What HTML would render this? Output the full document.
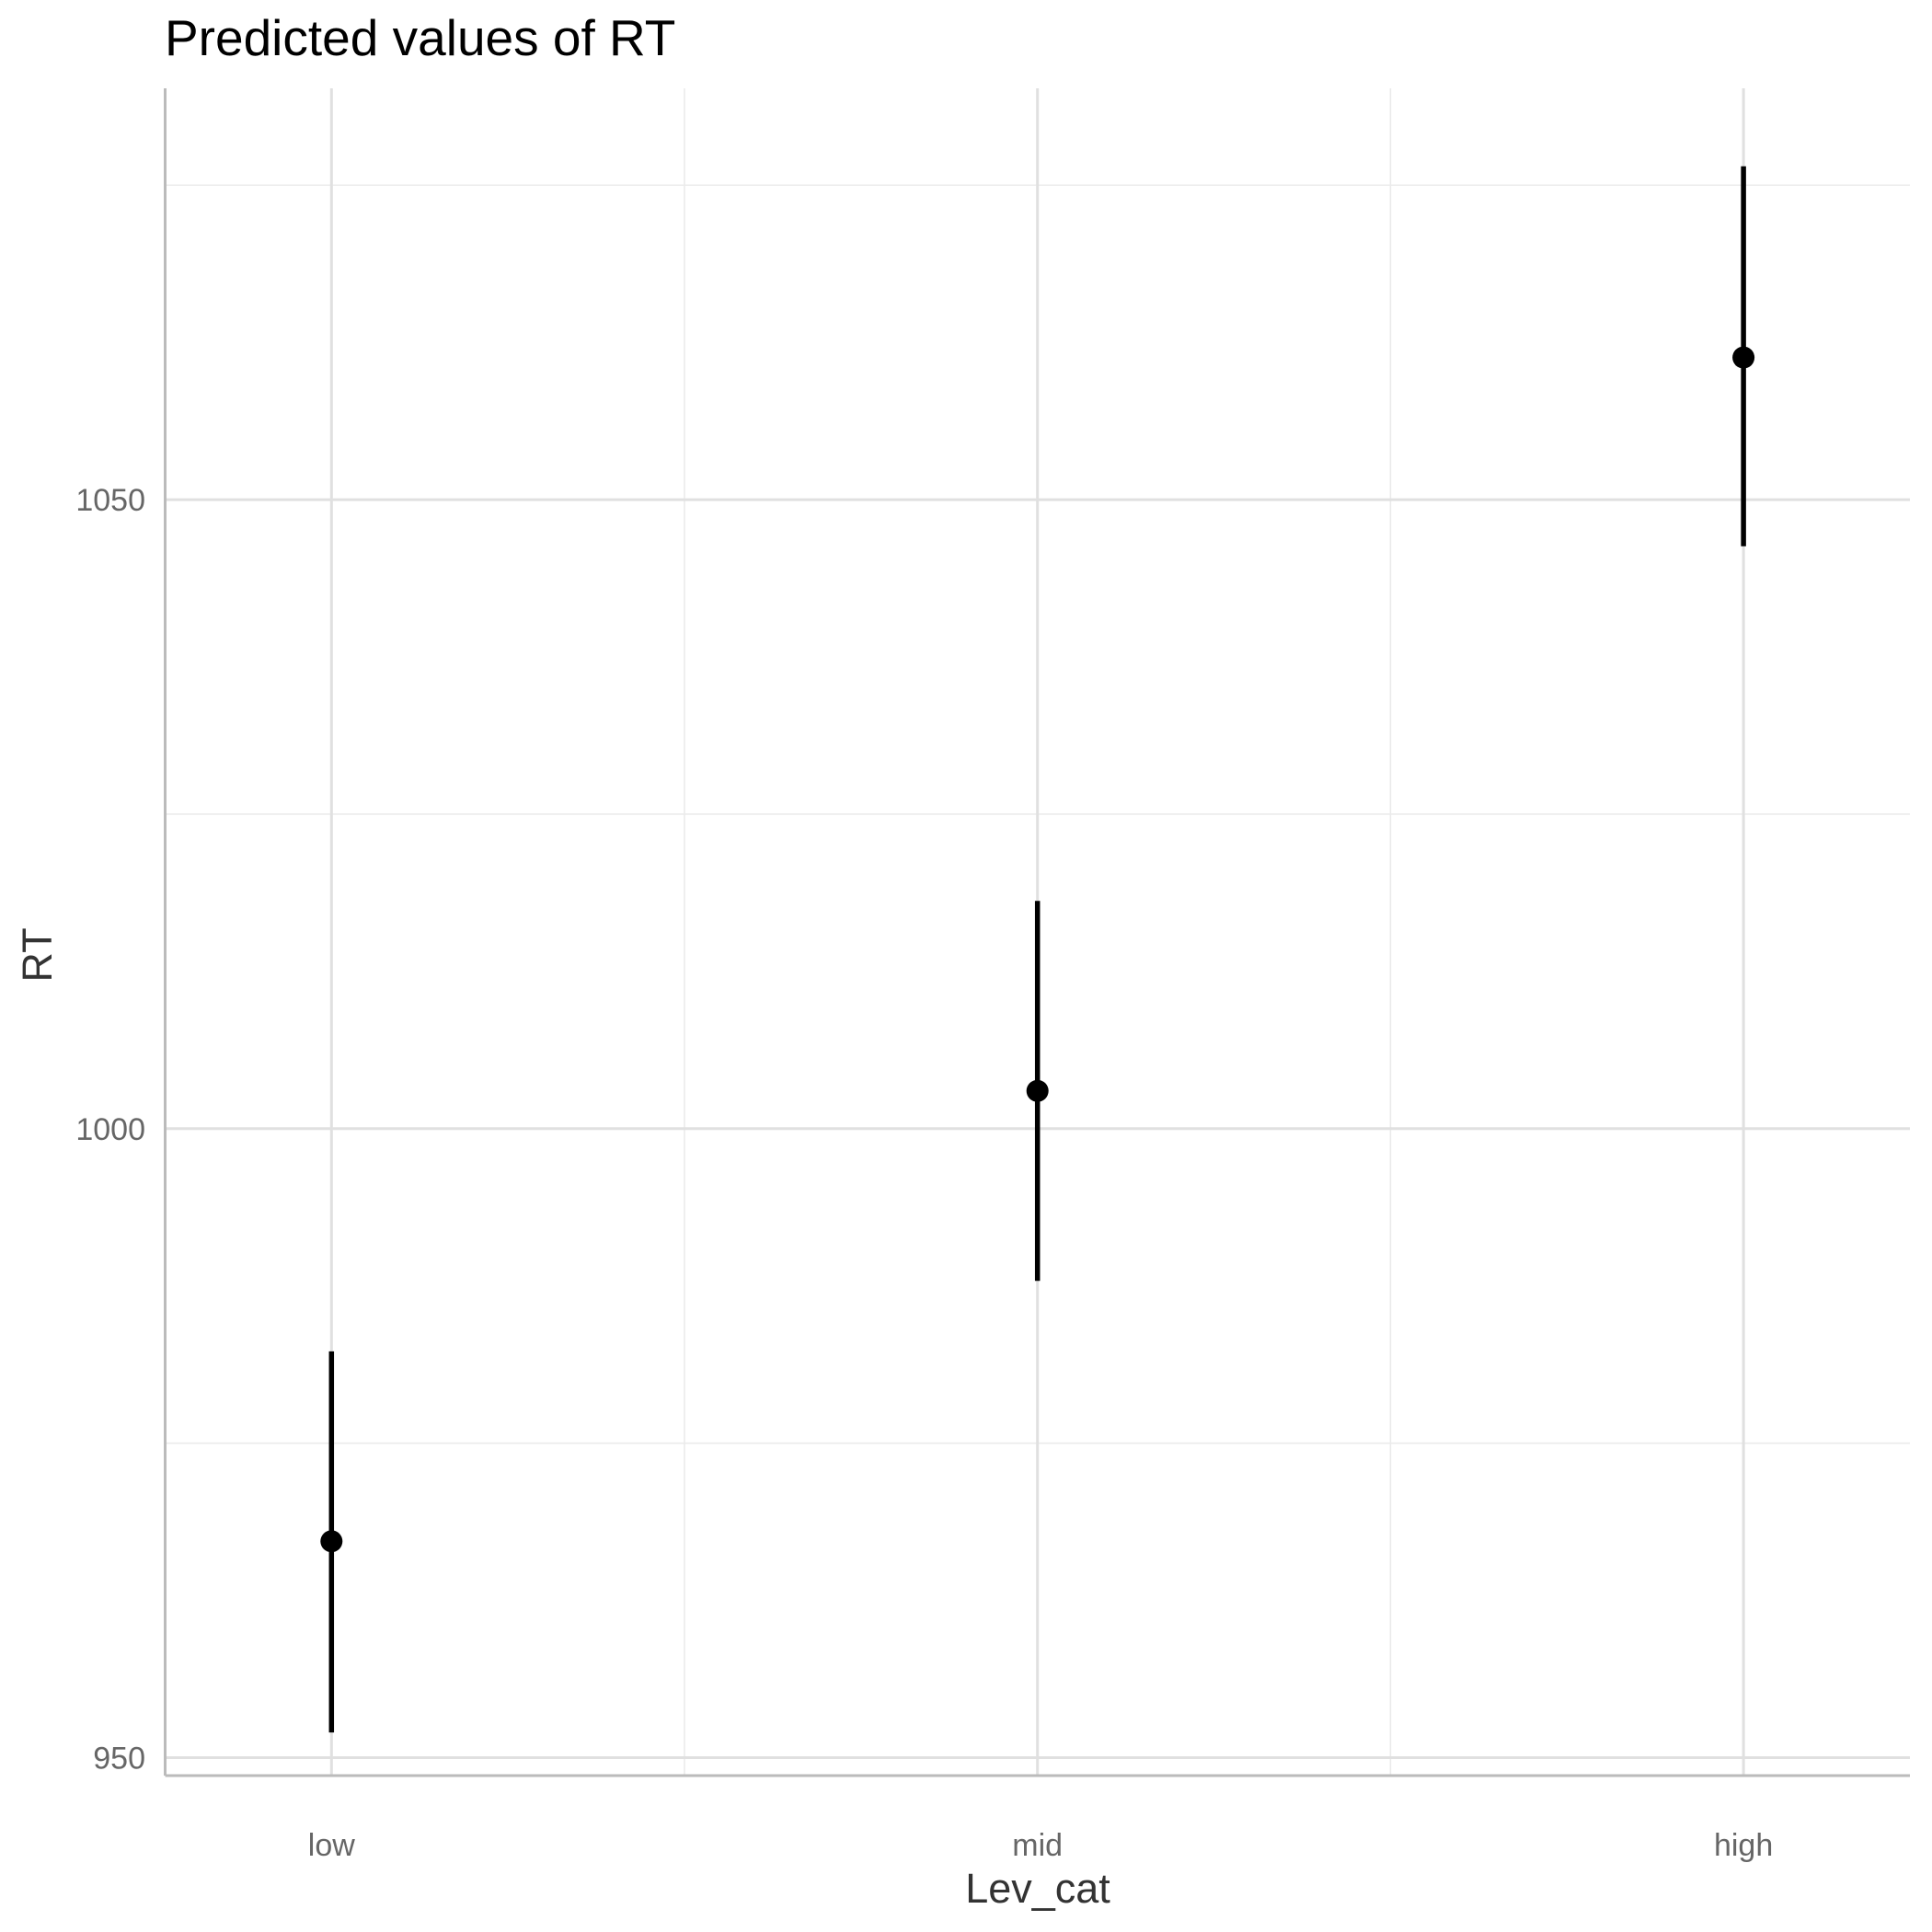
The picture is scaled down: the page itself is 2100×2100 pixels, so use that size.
<!DOCTYPE html>
<html><head><meta charset="utf-8"><style>
html,body{margin:0;padding:0;background:#fff;}
svg{display:block;font-family:"Liberation Sans",Arial,sans-serif;}
</style></head><body>
<svg id="chart" width="2100" height="2100" viewBox="0 0 2100 2100">
<text x="179" y="60" font-size="55" fill="#000">Predicted values of RT</text>
<g id="grid"></g>
<g id="axes"></g>
<g id="marks"></g>
<text x="1128" y="2068" font-size="45" fill="#333" text-anchor="middle">Lev_cat</text>
<text transform="translate(56,1038) rotate(-90)" font-size="45" fill="#333" text-anchor="middle">RT</text>
</svg>
<script>
const categories = ["low","mid","high"];
const predicted = [967.2, 1003.0, 1061.3];
const ciLow = [952.0, 987.9, 1046.3];
const ciHigh = [982.3, 1018.1, 1076.5];
const yTicks = [950, 1000, 1050];
const yMinor = [975, 1025, 1075];

const NS="http://www.w3.org/2000/svg";
const L=179.5,R=2076,T=96,B=1930;
function y(v){return 1226.8-(v-1000)*13.674;}
function x(i){return 360.3+i*767.4;}
function mk(tag,attrs,parent){const e=document.createElementNS(NS,tag);for(const k in attrs)e.setAttribute(k,attrs[k]);document.getElementById(parent).appendChild(e);return e;}

yMinor.forEach(v=>{const e=mk('line',{x1:L,x2:R,y1:y(v),y2:y(v),stroke:'#ebebeb','stroke-width':1.6},'grid');

});
[0.5,1.5].forEach(i=>{const e=mk('line',{x1:x(i),x2:x(i),y1:T,y2:B,stroke:'#ebebeb','stroke-width':1.6},'grid');

});
yTicks.forEach(v=>{const e=mk('line',{x1:L,x2:R,y1:y(v),y2:y(v),stroke:'#e0e0e0','stroke-width':3},'grid');


const t=mk('text',{x:158,y:y(v)+12,'font-size':34,fill:'#666','text-anchor':'end'},'axes');t.textContent=v;

});
categories.forEach((c,i)=>{const e=mk('line',{x1:x(i),x2:x(i),y1:T,y2:B,stroke:'#e0e0e0','stroke-width':3},'grid');


const t=mk('text',{x:x(i),y:2017,'font-size':34,fill:'#666','text-anchor':'middle'},'axes');t.textContent=c;

});
const ax=mk('line',{x1:L,x2:L,y1:T,y2:B,stroke:'#bbb','stroke-width':3},'axes');


const bx=mk('line',{x1:L,x2:R,y1:B,y2:B,stroke:'#bbb','stroke-width':3},'axes');


categories.forEach((c,i)=>{
const e=mk('line',{x1:x(i),x2:x(i),y1:y(ciLow[i]),y2:y(ciHigh[i]),stroke:'#000','stroke-width':5.5},'marks');


const p=mk('circle',{cx:x(i),cy:y(predicted[i]),r:12,fill:'#000'},'marks');


});
</script>
</body></html>
